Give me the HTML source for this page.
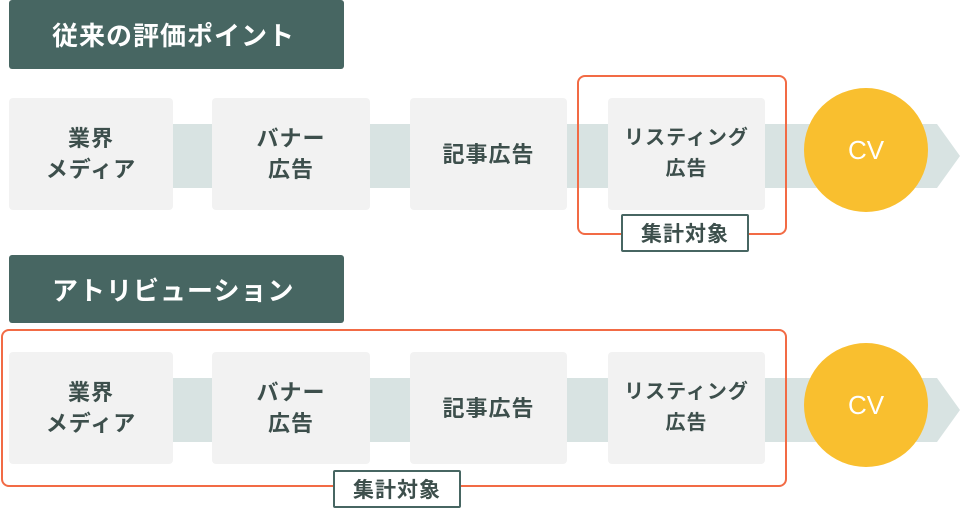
<!DOCTYPE html>
<html><head><meta charset="utf-8"><style>
body{margin:0;width:960px;height:519px;background:#fff;overflow:hidden;position:relative;font-family:"Liberation Sans","Noto Sans CJK JP",sans-serif}
.a{position:absolute}
.hd{background:#476662;color:#fff;font-size:26px;font-weight:bold;border-radius:3px;display:flex;align-items:center;padding-left:43px;box-sizing:border-box;letter-spacing:1px}
.bx{background:#f2f2f2;border-radius:4px;display:flex;align-items:center;justify-content:center;text-align:center;color:#3d4f4c;font-weight:bold;font-size:22px;line-height:31px;letter-spacing:1px}
.or{border:2px solid #f26b45;border-radius:8px;box-sizing:border-box}
.tag{background:#fff;border:2px solid #476662;border-radius:2px;box-sizing:border-box;color:#3d4f4c;font-weight:bold;font-size:21px;display:flex;align-items:center;justify-content:center;letter-spacing:1px}
.cv{background:#f9bf2f;border-radius:50%;color:#fff;font-size:26px;display:flex;align-items:center;justify-content:center}
</style></head><body>
<svg class="a" style="left:0;top:0" width="960" height="519">
<polygon points="10,124 937,124 960,156 937,188 10,188" fill="#d8e3e2"/>
<polygon points="10,378 937,378 960,410 937,442 10,442" fill="#d8e3e2"/>
</svg>
<div class="a hd" style="left:9px;top:0;width:335px;height:69px">従来の評価ポイント</div>
<div class="a bx" style="left:9px;top:98px;width:164px;height:112px">業界<br>メディア</div>
<div class="a bx" style="left:212px;top:98px;width:158px;height:112px">バナー<br>広告</div>
<div class="a bx" style="left:410px;top:98px;width:157px;height:112px">記事広告</div>
<div class="a bx" style="left:608px;top:98px;width:157px;height:112px;font-size:20px">リスティング<br>広告</div>
<div class="a or" style="left:577px;top:75px;width:210px;height:160px"></div>
<div class="a tag" style="left:621px;top:214px;width:128px;height:38px">集計対象</div>
<div class="a cv" style="left:804px;top:88px;width:124px;height:124px">CV</div>

<div class="a hd" style="left:9px;top:255px;width:335px;height:68px">アトリビューション</div>
<div class="a bx" style="left:9px;top:352px;width:164px;height:112px">業界<br>メディア</div>
<div class="a bx" style="left:212px;top:352px;width:158px;height:112px">バナー<br>広告</div>
<div class="a bx" style="left:410px;top:352px;width:157px;height:112px">記事広告</div>
<div class="a bx" style="left:608px;top:352px;width:157px;height:112px;font-size:20px">リスティング<br>広告</div>
<div class="a or" style="left:1px;top:329px;width:786px;height:158px"></div>
<div class="a tag" style="left:333px;top:470px;width:128px;height:38px">集計対象</div>
<div class="a cv" style="left:804px;top:343px;width:124px;height:124px">CV</div>
</body></html>
